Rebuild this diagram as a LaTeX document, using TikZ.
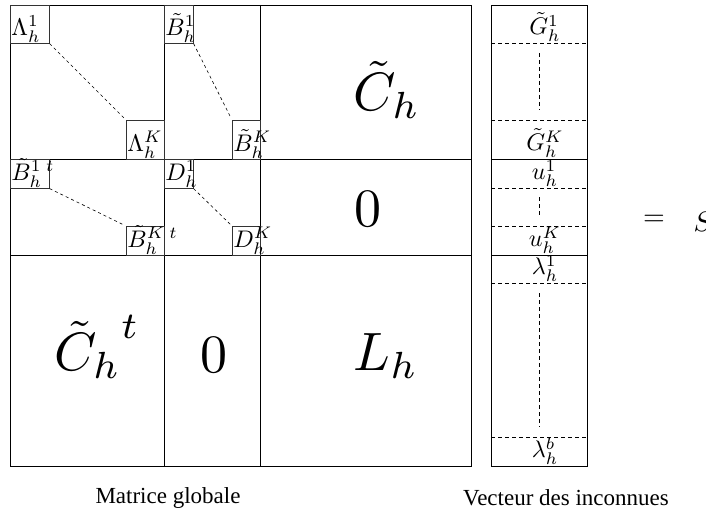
\documentclass[tikz,border=0pt]{standalone}
\usepackage[no-math]{fontspec}
\newfontfamily\capfont{Liberation Serif}
\begin{document}
\begin{tikzpicture}[x=1pt,y=-1pt,
  mline/.style={line width=0.8pt,black},
  sbox/.style={draw=black!80,line width=0.6pt,inner sep=0pt,anchor=north west},
  diag/.style={dashed,line width=0.6pt,shorten >=2pt},
  vdash/.style={dash pattern=on 4pt off 3pt,line width=0.6pt},
  lab/.style={inner sep=0.4pt,scale=2.4},
  big/.style={inner sep=0pt,scale=5.4},
  eqs/.style={inner sep=0pt,scale=2.8},
  captext/.style={inner sep=0pt,font=\capfont\fontsize{23}{27}\selectfont}]
\useasboundingbox (0,0) rectangle (706,513);
% global matrix
\draw[mline] (10,5) rectangle (471,466);
\draw[mline] (164,5) -- (164,466);
\draw[mline] (260,5) -- (260,466);
\draw[mline] (10,159) -- (471,159);
\draw[mline] (10,255) -- (471,255);
% small boxes
\node[sbox,minimum width=39pt,minimum height=38pt] (L1) at (10,5) {};
\node[sbox,minimum width=38pt,minimum height=39pt] (LK) at (126,120) {};
\node[sbox,minimum width=29pt,minimum height=38pt] (B1) at (164,5) {};
\node[sbox,minimum width=28pt,minimum height=39pt] (BK) at (232,120) {};
\node[sbox,minimum width=39pt,minimum height=29pt] (T1) at (10,159) {};
\node[sbox,minimum width=38pt,minimum height=29pt] (TK) at (126,226) {};
\node[sbox,minimum width=29pt,minimum height=29pt] (D1) at (164,159) {};
\node[sbox,minimum width=28pt,minimum height=29pt] (DK) at (232,226) {};
\draw[diag] (L1.south east) -- (LK.north west);
\draw[diag] (B1.south east) -- (BK.north west);
\draw[diag] (T1.south east) -- (TK.north west);
\draw[diag] (D1.south east) -- (DK.north west);
\node[lab,anchor=south west] (tL1) at (L1.south west) {$\Lambda_h^1$};
\node[lab,anchor=south west] (tLK) at (LK.south west) {$\Lambda_h^K$};
\node[lab,anchor=south west] (tB1) at (B1.south west) {$\tilde{B}_h^1$};
\node[lab,anchor=south west] (tBK) at (BK.south west) {$\tilde{B}_h^K$};
\node[lab,anchor=south west] (tT1) at (T1.south west) {$\tilde{B}_h^1\,{}^{t}$};
\node[lab,anchor=south west] (tTK) at (TK.south west) {$\tilde{B}_h^K\,{}^{t}$};
\node[lab,anchor=south west] (tD1) at (D1.south west) {$D_h^1$};
\node[lab,anchor=south west] (tDK) at (DK.south west) {$D_h^K$};
% big labels
\node[big] (Ch) at (387,90) {$\tilde{C}_h$};
\node[big] (Z1) at (368,209) {$0$};
\node[big] (Cht) at (96,347) {$\tilde{C}_h$\raisebox{0.6em}{$\scriptstyle t$}};
\node[big] (Z2) at (214,355) {$0$};
\node[big] (Lh) at (386,356) {$L_h$};
% vector
\draw[mline] (491,5) rectangle (587,466);
\draw[mline] (491,159) -- (587,159);
\draw[mline] (491,255) -- (587,255);
\foreach \yy in {43,120,188,226,283,437} \draw[vdash] (491,\yy) -- (587,\yy);
\draw[vdash] (539,53) -- (539,110);
\draw[vdash] (539,197) -- (539,217);
\draw[vdash] (539,293) -- (539,427);
\node[lab,anchor=south] (G1) at (545,43) {$\tilde{G}_h^1$};
\node[lab,anchor=south] (GK) at (545,159) {$\tilde{G}_h^K$};
\node[lab,anchor=south] (u1) at (545,188) {$u_h^1$};
\node[lab,anchor=south] (uK) at (545,255) {$u_h^K$};
\node[lab,anchor=south] (l1) at (545,283) {$\lambda_h^1$};
\node[lab,anchor=south] (lb) at (545,466) {$\lambda_h^b$};
% right-hand side
\node[eqs] (eq) at (654,220) {$=$};
\node[eqs,anchor=west] (S) at (693,222) {$S$};
% captions
\node[captext] (cap1) at (168,498) {Matrice globale};
\node[captext] (cap2) at (566,498) {Vecteur des inconnues};
\end{tikzpicture}
\end{document}
